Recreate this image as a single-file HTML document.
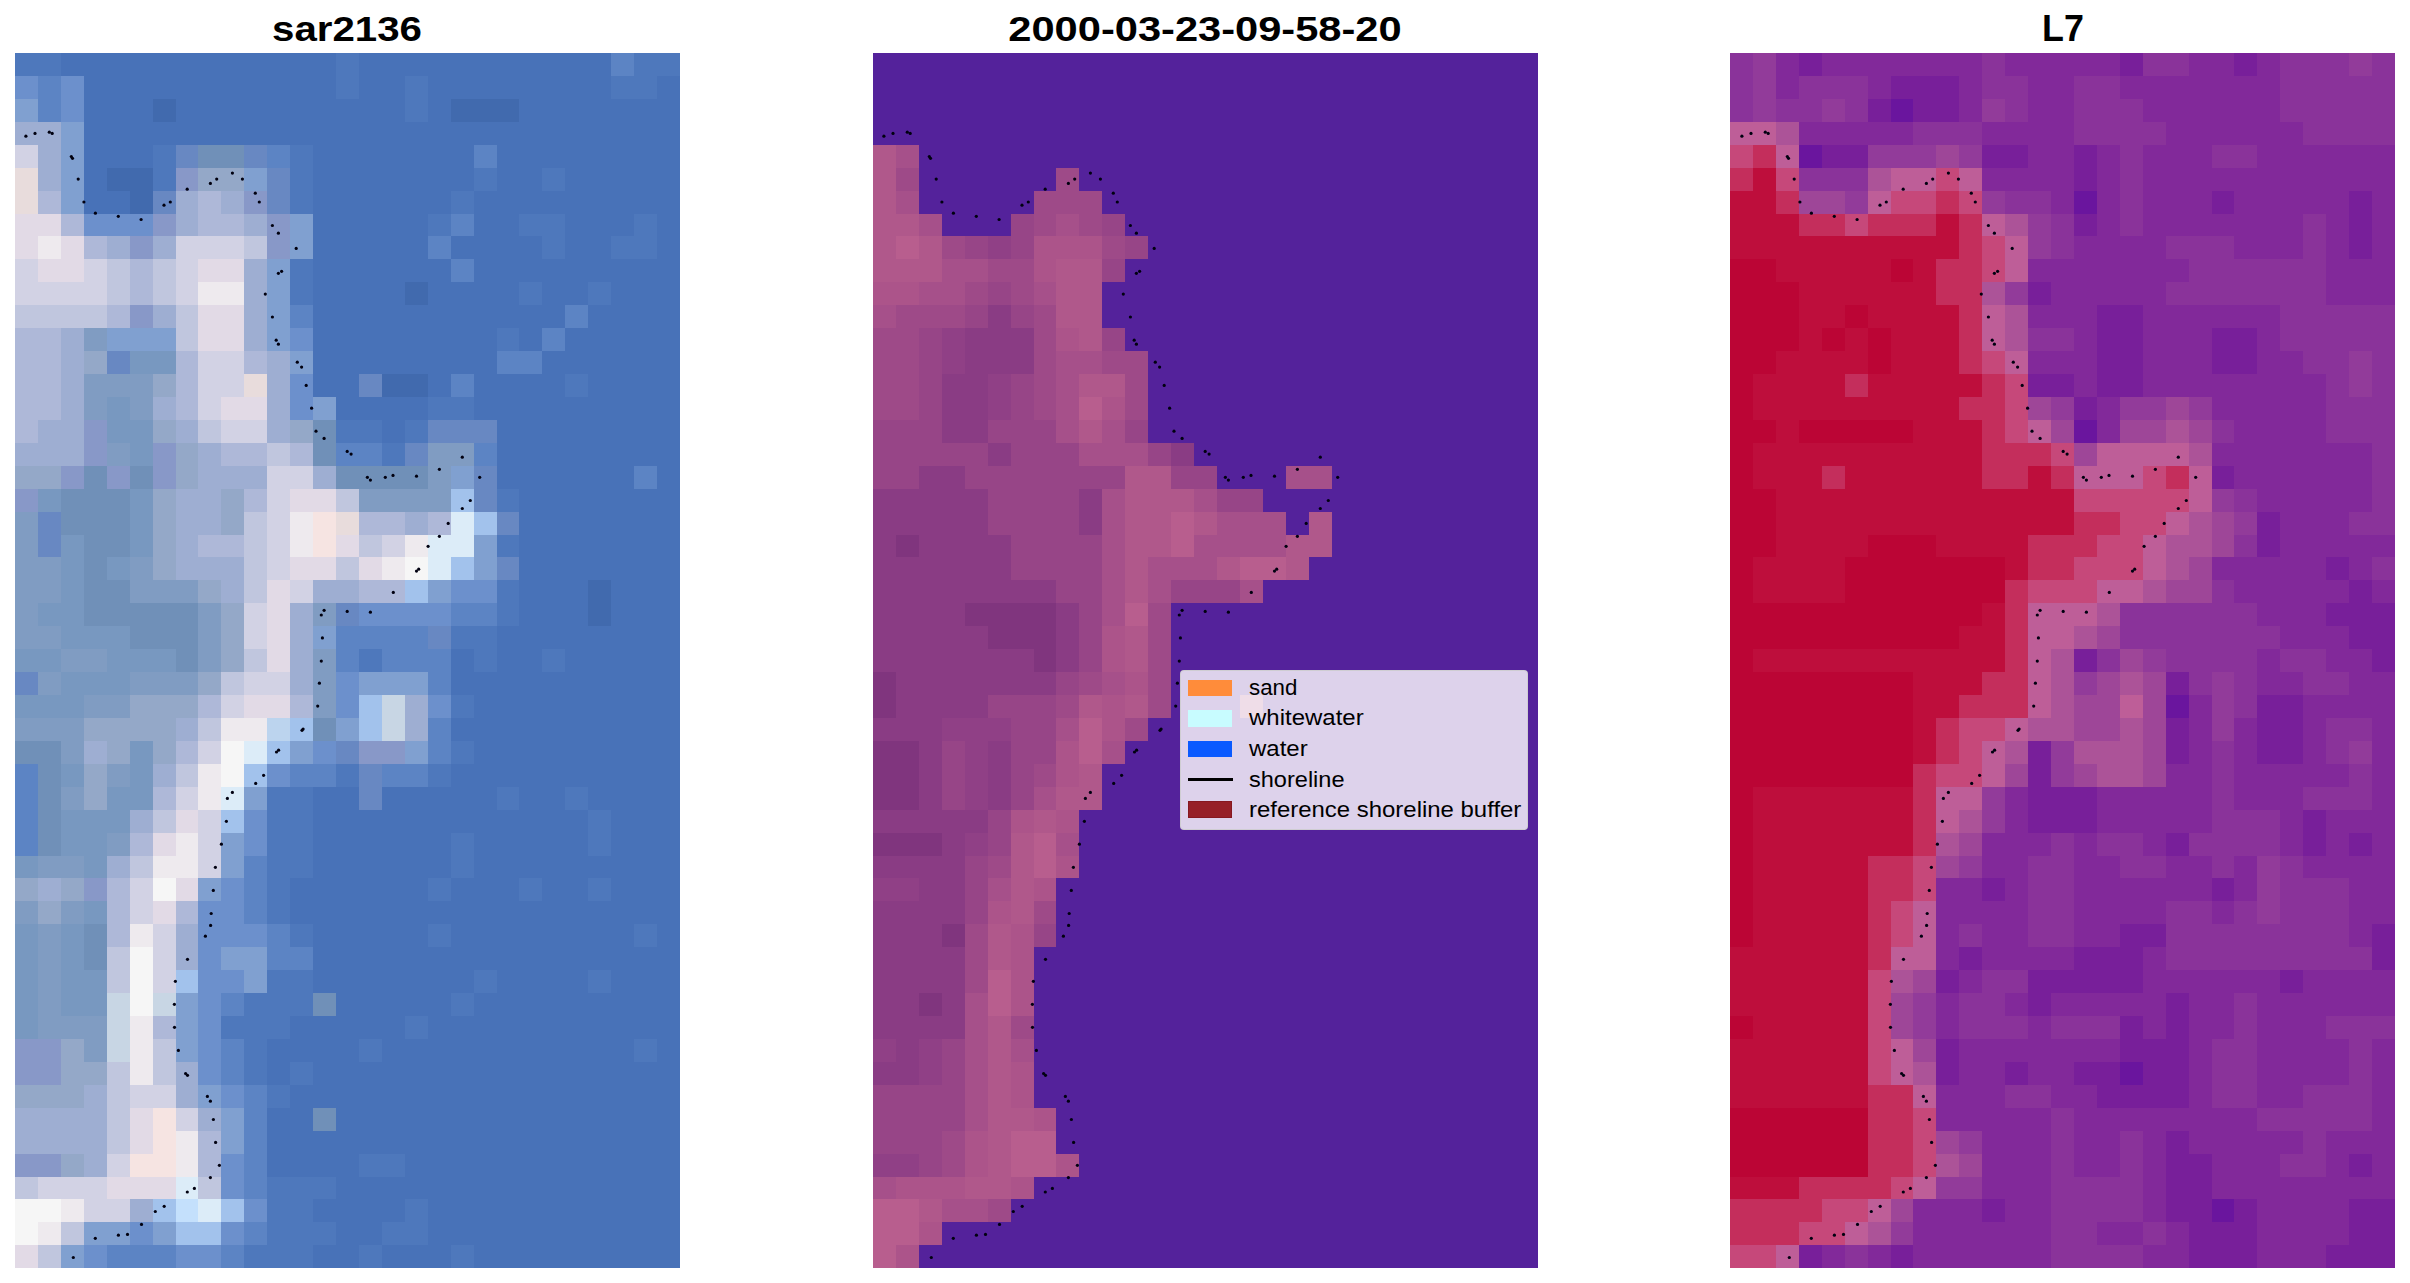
<!DOCTYPE html>
<html><head><meta charset="utf-8"><style>
html,body{margin:0;padding:0;background:#fff;}
body{width:2410px;height:1283px;position:relative;overflow:hidden;font-family:"Liberation Sans",sans-serif;}
.p{position:absolute;display:block;}
.t{position:absolute;top:0;font-weight:bold;font-size:35px;color:#000;white-space:nowrap;line-height:57px;transform-origin:50% 50%;text-align:center;width:600px;}
.lg{position:absolute;left:1180px;top:670px;width:348px;height:160px;background:rgba(255,255,255,0.8);border-radius:4px;box-sizing:border-box;border:1px solid rgba(204,204,204,0.8);}
.lg .sw{position:absolute;left:7px;width:44px;height:16px;}
.lg .tx{position:absolute;left:68px;font-size:22px;line-height:24px;color:#000;white-space:nowrap;transform-origin:0 50%;}
#dots{position:absolute;left:0;top:0;}
</style></head><body>
<div class="t" id="t1" style="left:47px;transform:scaleX(1.149)">sar2136</div>
<div class="t" id="t2" style="left:905px;transform:scaleX(1.189)">2000-03-23-09-58-20</div>
<div class="t" id="t3" style="left:1763px;font-size:36.4px;transform:scaleX(0.985)">L7</div>
<svg class="p" style="left:15.3px;top:53.1px" width="664.97" height="1215.29" viewBox="0 0 29 53" preserveAspectRatio="none" shape-rendering="crispEdges"><rect width="29" height="53" fill="#4872b8"/><path fill="#416aae" d="M6 2h1v1h-1zM19 2h3v1h-3zM4 5h2v1h-2zM5 6h1v1h-1zM17 10h1v1h-1zM16 14h2v1h-2zM25 23h1v1h-1zM25 24h1v1h-1z"/><path fill="#4e78bc" d="M0 0h2v1h-2zM14 0h1v1h-1zM27 0h2v1h-2zM14 1h1v1h-1zM17 1h1v1h-1zM26 1h2v1h-2zM17 2h1v1h-1zM6 4h1v1h-1zM12 4h1v1h-1zM6 5h1v1h-1zM12 5h1v1h-1zM20 5h1v1h-1zM23 5h1v1h-1zM12 6h1v1h-1zM19 6h1v1h-1zM18 7h1v1h-1zM22 7h2v1h-2zM27 7h1v1h-1zM23 8h1v1h-1zM26 8h2v1h-2zM12 9h1v1h-1zM12 10h1v1h-1zM22 10h1v1h-1zM25 10h1v1h-1zM21 12h1v1h-1zM24 14h1v1h-1zM18 15h2v1h-2zM14 16h2v1h-2zM17 16h1v1h-1zM16 17h1v1h-1zM21 19h1v1h-1zM21 21h1v1h-1zM21 23h1v1h-1zM21 24h1v1h-1zM19 25h2v1h-2zM15 26h1v1h-1zM20 26h1v1h-1zM23 26h1v1h-1zM19 28h1v1h-1zM19 30h1v1h-1zM14 31h1v1h-1zM18 31h1v1h-1zM11 32h2v1h-2zM21 32h1v1h-1zM24 32h1v1h-1zM11 33h2v1h-2zM25 33h1v1h-1zM11 34h2v1h-2zM19 34h1v1h-1zM25 34h1v1h-1zM11 35h2v1h-2zM19 35h1v1h-1zM11 36h1v1h-1zM18 36h1v1h-1zM22 36h1v1h-1zM25 36h1v1h-1zM11 37h1v1h-1zM12 38h1v1h-1zM18 38h1v1h-1zM27 38h1v1h-1zM11 40h2v1h-2zM20 40h1v1h-1zM25 40h1v1h-1zM10 41h3v1h-3zM19 41h1v1h-1zM9 42h3v1h-3zM17 42h1v1h-1zM10 43h1v1h-1zM15 43h1v1h-1zM27 43h1v1h-1zM10 44h1v1h-1zM12 44h1v1h-1zM11 45h1v1h-1zM15 48h2v1h-2zM11 49h3v1h-3zM11 50h2v1h-2zM17 50h1v1h-1zM11 51h3v1h-3zM16 51h2v1h-2zM10 52h3v1h-3zM15 52h1v1h-1zM19 52h1v1h-1z"/><path fill="#5c84c4" d="M26 0h1v1h-1zM1 1h1v1h-1zM1 2h1v1h-1zM11 4h1v1h-1zM20 4h1v1h-1zM19 7h1v1h-1zM18 8h1v1h-1zM19 9h1v1h-1zM12 11h1v1h-1zM24 11h1v1h-1zM23 12h1v1h-1zM21 13h2v1h-2zM19 14h1v1h-1zM14 17h2v1h-2zM20 17h1v1h-1zM27 18h1v1h-1zM19 24h2v1h-2zM14 25h4v1h-4zM14 26h1v1h-1zM16 26h3v1h-3zM18 27h1v1h-1zM18 29h1v1h-1zM18 30h1v1h-1zM0 31h1v1h-1zM12 31h2v1h-2zM16 31h2v1h-2zM0 32h1v1h-1zM0 33h1v1h-1zM0 34h1v1h-1zM10 35h1v1h-1zM10 36h1v1h-1zM10 37h1v1h-1zM11 38h1v1h-1zM11 39h2v1h-2zM9 41h1v1h-1zM9 43h1v1h-1zM9 44h1v1h-1zM10 45h1v1h-1zM10 46h1v1h-1zM10 47h1v1h-1zM10 48h1v1h-1zM10 49h1v1h-1zM10 51h1v1h-1zM4 52h3v1h-3zM9 52h1v1h-1z"/><path fill="#6c90cc" d="M0 1h1v1h-1zM2 1h1v1h-1zM2 2h1v1h-1zM3 7h3v1h-3zM12 12h1v1h-1zM12 14h1v1h-1zM12 15h1v1h-1zM19 23h2v1h-2zM15 24h4v1h-4zM14 27h1v1h-1zM14 28h1v1h-1zM18 28h1v1h-1zM13 30h1v1h-1zM11 31h1v1h-1zM10 33h1v1h-1zM10 34h1v1h-1zM9 36h1v1h-1zM8 37h2v1h-2zM8 38h3v1h-3zM8 39h1v1h-1zM8 40h2v1h-2zM8 41h1v1h-1zM8 42h1v1h-1zM8 43h1v1h-1zM8 44h1v1h-1zM9 45h1v1h-1zM9 48h1v1h-1zM9 49h1v1h-1zM10 50h1v1h-1zM5 51h1v1h-1zM9 51h1v1h-1zM3 52h1v1h-1zM7 52h2v1h-2z"/><path fill="#80a0d0" d="M0 2h1v1h-1zM2 3h1v1h-1zM2 4h1v1h-1zM2 5h1v1h-1zM10 5h1v1h-1zM2 6h1v1h-1zM12 7h1v1h-1zM12 8h1v1h-1zM11 9h1v1h-1zM11 10h1v1h-1zM11 11h1v1h-1zM4 12h3v1h-3zM11 12h1v1h-1zM12 13h1v1h-1zM13 15h1v1h-1zM19 18h1v1h-1zM20 21h1v1h-1zM20 22h1v1h-1zM18 23h1v1h-1zM13 25h1v1h-1zM15 27h3v1h-3zM14 29h1v1h-1zM12 30h1v1h-1zM17 30h1v1h-1zM10 32h1v1h-1zM9 34h1v1h-1zM9 35h1v1h-1zM8 36h1v1h-1zM9 39h2v1h-2zM10 40h1v1h-1zM7 41h1v1h-1zM7 42h1v1h-1zM7 43h1v1h-1zM8 45h1v1h-1zM9 46h1v1h-1zM9 47h1v1h-1zM3 51h2v1h-2zM6 51h1v1h-1zM2 52h1v1h-1z"/><path fill="#8898c8" d="M7 5h1v1h-1zM10 6h1v1h-1zM6 7h1v1h-1zM11 7h1v1h-1zM5 8h1v1h-1zM11 8h1v1h-1zM5 11h1v1h-1zM3 16h1v1h-1zM3 17h1v1h-1zM6 17h1v1h-1zM2 18h1v1h-1zM4 18h1v1h-1zM6 18h1v1h-1zM0 19h1v1h-1zM15 30h2v1h-2zM3 36h1v1h-1zM0 43h2v1h-2zM0 44h2v1h-2zM0 48h2v1h-2z"/><path fill="#9eaed2" d="M0 3h2v1h-2zM1 4h1v1h-1zM1 5h1v1h-1zM7 6h1v1h-1zM9 6h1v1h-1zM7 7h1v1h-1zM10 7h1v1h-1zM4 8h1v1h-1zM6 8h1v1h-1zM10 9h1v1h-1zM10 10h1v1h-1zM6 11h1v1h-1zM10 11h1v1h-1zM2 12h1v1h-1zM10 12h1v1h-1zM2 13h1v1h-1zM11 13h1v1h-1zM2 14h1v1h-1zM11 14h1v1h-1zM2 15h1v1h-1zM6 15h1v1h-1zM11 15h1v1h-1zM1 16h2v1h-2zM7 16h1v1h-1zM11 16h1v1h-1zM0 17h3v1h-3zM8 17h1v1h-1zM8 18h3v1h-3zM13 18h1v1h-1zM7 19h2v1h-2zM7 20h2v1h-2zM17 20h1v1h-1zM7 21h1v1h-1zM7 22h3v1h-3zM9 23h1v1h-1zM13 23h2v1h-2zM12 24h1v1h-1zM12 25h1v1h-1zM12 26h1v1h-1zM12 27h1v1h-1zM17 28h1v1h-1zM7 29h1v1h-1zM17 29h1v1h-1zM3 30h1v1h-1zM6 31h1v1h-1zM5 33h1v1h-1zM4 35h1v1h-1zM1 36h1v1h-1zM7 38h1v1h-1zM7 39h1v1h-1zM7 44h1v1h-1zM3 45h1v1h-1zM7 45h1v1h-1zM0 46h4v1h-4zM8 46h1v1h-1zM0 47h4v1h-4zM3 48h1v1h-1zM5 50h1v1h-1z"/><path fill="#aeb8d8" d="M1 6h1v1h-1zM8 6h1v1h-1zM2 7h1v1h-1zM8 7h2v1h-2zM3 8h1v1h-1zM5 9h1v1h-1zM5 10h1v1h-1zM4 11h1v1h-1zM0 12h2v1h-2zM0 13h2v1h-2zM7 13h1v1h-1zM10 13h1v1h-1zM0 14h2v1h-2zM7 14h1v1h-1zM0 15h2v1h-2zM7 15h1v1h-1zM0 16h1v1h-1zM9 17h2v1h-2zM12 17h1v1h-1zM10 19h1v1h-1zM15 20h2v1h-2zM18 20h1v1h-1zM8 21h2v1h-2zM15 23h2v1h-2zM8 28h1v1h-1zM12 28h1v1h-1zM7 30h1v1h-1zM6 32h1v1h-1zM5 34h1v1h-1zM4 36h1v1h-1zM4 37h1v1h-1zM7 37h1v1h-1zM4 38h1v1h-1zM6 42h1v1h-1zM8 47h1v1h-1zM8 48h1v1h-1z"/><path fill="#c0c6de" d="M10 8h1v1h-1zM4 9h1v1h-1zM6 9h1v1h-1zM4 10h1v1h-1zM6 10h1v1h-1zM0 11h4v1h-4zM7 11h1v1h-1zM7 12h1v1h-1zM8 16h1v1h-1zM11 17h1v1h-1zM14 19h1v1h-1zM10 20h1v1h-1zM10 21h1v1h-1zM15 21h1v1h-1zM10 22h1v1h-1zM14 22h1v1h-1zM10 23h1v1h-1zM10 26h1v1h-1zM9 27h1v1h-1zM8 29h1v1h-1zM7 31h1v1h-1zM6 33h1v1h-1zM5 35h1v1h-1zM4 39h1v1h-1zM4 40h1v1h-1zM6 43h1v1h-1zM4 44h1v1h-1zM6 44h1v1h-1zM4 45h1v1h-1zM4 46h1v1h-1zM4 47h1v1h-1zM0 49h1v1h-1zM8 49h1v1h-1zM2 51h1v1h-1zM1 52h1v1h-1z"/><path fill="#d2d2e4" d="M0 4h1v1h-1zM7 8h3v1h-3zM0 9h1v1h-1zM3 9h1v1h-1zM7 9h1v1h-1zM0 10h4v1h-4zM7 10h1v1h-1zM8 13h2v1h-2zM8 14h2v1h-2zM8 15h1v1h-1zM9 16h2v1h-2zM11 18h2v1h-2zM11 19h1v1h-1zM11 20h1v1h-1zM11 21h1v1h-1zM16 21h1v1h-1zM11 22h1v1h-1zM12 23h1v1h-1zM10 24h1v1h-1zM10 25h1v1h-1zM10 27h2v1h-2zM9 28h1v1h-1zM8 30h1v1h-1zM7 32h1v1h-1zM8 33h1v1h-1zM8 34h1v1h-1zM8 35h1v1h-1zM5 36h1v1h-1zM5 37h1v1h-1zM6 38h1v1h-1zM6 39h1v1h-1zM6 40h1v1h-1zM5 45h2v1h-2zM7 46h1v1h-1zM4 48h1v1h-1zM1 49h3v1h-3zM3 50h2v1h-2z"/><path fill="#e2dae6" d="M0 7h2v1h-2zM0 8h1v1h-1zM2 8h1v1h-1zM1 9h2v1h-2zM8 9h2v1h-2zM8 11h2v1h-2zM8 12h2v1h-2zM9 15h2v1h-2zM12 19h2v1h-2zM14 21h1v1h-1zM12 22h2v1h-2zM15 22h1v1h-1zM11 23h1v1h-1zM11 24h1v1h-1zM11 25h1v1h-1zM11 26h1v1h-1zM10 28h2v1h-2zM7 33h1v1h-1zM6 34h1v1h-1zM7 36h1v1h-1zM6 37h1v1h-1zM5 46h1v1h-1zM5 47h1v1h-1zM4 49h3v1h-3zM0 52h1v1h-1z"/><path fill="#eeeaee" d="M1 8h1v1h-1zM8 10h2v1h-2zM12 20h1v1h-1zM12 21h1v1h-1zM17 21h1v1h-1zM16 22h1v1h-1zM9 29h2v1h-2zM8 31h1v1h-1zM8 32h1v1h-1zM7 34h1v1h-1zM6 35h2v1h-2zM5 38h1v1h-1zM5 42h1v1h-1zM5 43h1v1h-1zM5 44h1v1h-1zM7 47h1v1h-1zM7 48h1v1h-1zM2 50h1v1h-1zM1 51h1v1h-1z"/><path fill="#a2c2ec" d="M19 19h1v1h-1zM20 20h1v1h-1zM19 22h1v1h-1zM17 23h1v1h-1zM15 28h1v1h-1zM12 29h1v1h-1zM15 29h1v1h-1zM11 30h1v1h-1zM10 31h1v1h-1zM9 33h1v1h-1zM7 40h1v1h-1zM6 50h1v1h-1zM9 50h1v1h-1zM7 51h2v1h-2z"/><path fill="#dcecf8" d="M19 20h1v1h-1zM18 21h2v1h-2zM18 22h1v1h-1zM10 30h1v1h-1zM9 32h1v1h-1zM7 49h1v1h-1zM8 50h1v1h-1z"/><path fill="#7090b8" d="M8 4h2v1h-2zM13 16h1v1h-1zM13 17h1v1h-1zM3 18h1v1h-1zM5 18h1v1h-1zM14 18h4v1h-4zM2 19h3v1h-3zM2 20h3v1h-3zM3 21h2v1h-2zM3 22h1v1h-1zM3 23h2v1h-2zM3 24h5v1h-5zM5 25h3v1h-3zM7 26h1v1h-1zM13 29h1v1h-1zM0 30h2v1h-2zM1 31h1v1h-1zM1 32h1v1h-1zM1 33h1v1h-1zM1 34h1v1h-1zM3 38h1v1h-1zM3 39h1v1h-1zM13 41h1v1h-1zM13 46h1v1h-1z"/><path fill="#e8dcdc" d="M0 5h1v1h-1zM0 6h1v1h-1zM10 14h1v1h-1zM14 20h1v1h-1z"/><path fill="#809cc2" d="M3 12h1v1h-1zM3 14h3v1h-3zM3 15h1v1h-1zM5 15h1v1h-1zM4 17h1v1h-1zM18 17h2v1h-2zM18 18h1v1h-1zM15 19h4v1h-4zM0 20h1v1h-1zM0 21h1v1h-1zM0 22h2v1h-2zM5 22h1v1h-1zM0 23h2v1h-2zM5 23h3v1h-3zM0 24h1v1h-1zM8 24h1v1h-1zM13 24h1v1h-1zM0 25h2v1h-2zM8 25h1v1h-1zM2 26h2v1h-2zM8 26h1v1h-1zM13 26h1v1h-1zM1 27h1v1h-1zM5 27h3v1h-3zM13 27h1v1h-1zM3 28h2v1h-2zM13 28h1v1h-1zM0 29h3v1h-3zM2 30h1v1h-1zM4 31h1v1h-1zM2 32h1v1h-1zM4 34h1v1h-1zM1 35h2v1h-2zM0 37h1v1h-1zM2 37h1v1h-1zM1 38h1v1h-1zM1 39h1v1h-1zM1 40h1v1h-1zM1 41h1v1h-1zM1 42h3v1h-3zM3 43h1v1h-1z"/><path fill="#6888c2" d="M7 4h1v1h-1zM10 4h1v1h-1zM11 5h1v1h-1zM6 6h1v1h-1zM11 6h1v1h-1zM4 13h1v1h-1zM15 14h1v1h-1zM18 16h3v1h-3zM17 17h1v1h-1zM20 18h1v1h-1zM20 19h1v1h-1zM1 20h1v1h-1zM21 20h1v1h-1zM1 21h1v1h-1zM21 22h1v1h-1zM14 24h1v1h-1zM18 25h1v1h-1zM0 27h1v1h-1zM14 30h1v1h-1zM15 31h1v1h-1zM15 32h1v1h-1z"/><path fill="#f6e4e2" d="M13 20h1v1h-1zM13 21h1v1h-1zM6 46h1v1h-1zM6 47h1v1h-1zM5 48h2v1h-2z"/><path fill="#c4e0fc" d="M7 50h1v1h-1z"/><path fill="#7898c0" d="M5 13h2v1h-2zM4 15h1v1h-1zM4 16h2v1h-2zM5 17h1v1h-1zM1 19h1v1h-1zM5 19h1v1h-1zM5 20h1v1h-1zM2 21h1v1h-1zM5 21h1v1h-1zM2 22h1v1h-1zM4 22h1v1h-1zM2 23h1v1h-1zM1 24h2v1h-2zM2 25h3v1h-3zM0 26h2v1h-2zM4 26h3v1h-3zM2 27h3v1h-3zM0 28h3v1h-3zM5 30h1v1h-1zM2 31h1v1h-1zM5 31h1v1h-1zM4 32h2v1h-2zM2 33h3v1h-3zM2 34h2v1h-2zM0 35h1v1h-1zM3 35h1v1h-1zM3 37h1v1h-1zM0 38h1v1h-1zM2 38h1v1h-1zM0 39h1v1h-1zM2 39h1v1h-1zM0 40h1v1h-1zM2 40h2v1h-2zM0 41h1v1h-1zM2 41h2v1h-2zM0 42h1v1h-1z"/><path fill="#f6f6f6" d="M17 22h1v1h-1zM9 30h1v1h-1zM9 31h1v1h-1zM6 36h1v1h-1zM5 39h1v1h-1zM5 40h1v1h-1zM5 41h1v1h-1zM0 50h2v1h-2zM0 51h1v1h-1z"/><path fill="#94a8c8" d="M8 5h2v1h-2zM3 13h1v1h-1zM6 14h1v1h-1zM6 16h1v1h-1zM12 16h1v1h-1zM7 17h1v1h-1zM0 18h2v1h-2zM7 18h1v1h-1zM6 19h1v1h-1zM9 19h1v1h-1zM6 20h1v1h-1zM9 20h1v1h-1zM6 21h1v1h-1zM6 22h1v1h-1zM8 23h1v1h-1zM9 24h1v1h-1zM9 25h1v1h-1zM9 26h1v1h-1zM8 27h1v1h-1zM5 28h3v1h-3zM3 29h4v1h-4zM4 30h1v1h-1zM6 30h1v1h-1zM3 31h1v1h-1zM3 32h1v1h-1zM0 36h1v1h-1zM2 36h1v1h-1zM1 37h1v1h-1zM2 43h1v1h-1zM2 44h2v1h-2zM0 45h3v1h-3zM2 48h1v1h-1z"/><path fill="#c8d6e4" d="M16 28h1v1h-1zM16 29h1v1h-1zM4 41h1v1h-1zM6 41h1v1h-1zM4 42h1v1h-1zM4 43h1v1h-1z"/><path fill="#bcd4ee" d="M11 29h1v1h-1z"/></svg><svg class="p" style="left:872.9px;top:53.1px" width="664.97" height="1215.29" viewBox="0 0 29 53" preserveAspectRatio="none" shape-rendering="crispEdges"><rect width="29" height="53" fill="#54229b"/><path fill="#80357e" d="M1 21h1v1h-1zM4 24h4v1h-4zM5 25h3v1h-3zM7 26h1v1h-1zM0 27h1v1h-1zM0 28h1v1h-1zM0 30h2v1h-2zM0 31h2v1h-2zM0 32h2v1h-2zM0 34h3v1h-3zM3 38h1v1h-1zM2 41h1v1h-1z"/><path fill="#8a3c84" d="M5 11h1v1h-1zM4 12h3v1h-3zM4 13h3v1h-3zM3 14h2v1h-2zM3 15h2v1h-2zM3 16h2v1h-2zM5 17h1v1h-1zM13 17h1v1h-1zM2 18h2v1h-2zM0 19h5v1h-5zM9 19h1v1h-1zM0 20h5v1h-5zM9 20h1v1h-1zM0 21h1v1h-1zM2 21h4v1h-4zM0 22h6v1h-6zM0 23h8v1h-8zM0 24h4v1h-4zM8 24h1v1h-1zM0 25h5v1h-5zM8 25h1v1h-1zM0 26h7v1h-7zM8 26h1v1h-1zM1 27h7v1h-7zM1 28h4v1h-4zM0 29h3v1h-3zM2 30h1v1h-1zM5 30h1v1h-1zM2 31h1v1h-1zM5 31h1v1h-1zM2 32h1v1h-1zM5 32h1v1h-1zM0 33h5v1h-5zM3 34h1v1h-1zM0 35h4v1h-4zM2 36h2v1h-2zM0 37h4v1h-4zM0 38h3v1h-3zM0 39h4v1h-4zM0 40h4v1h-4zM0 41h2v1h-2zM3 41h1v1h-1zM0 42h4v1h-4zM1 43h1v1h-1zM0 44h2v1h-2z"/><path fill="#974587" d="M6 7h1v1h-1zM10 7h1v1h-1zM4 8h1v1h-1zM6 8h1v1h-1zM11 8h1v1h-1zM10 9h1v1h-1zM5 10h1v1h-1zM4 11h1v1h-1zM6 11h1v1h-1zM2 12h1v1h-1zM10 12h1v1h-1zM2 13h1v1h-1zM2 14h1v1h-1zM6 14h1v1h-1zM2 15h1v1h-1zM6 15h1v1h-1zM0 16h3v1h-3zM5 16h3v1h-3zM11 16h1v1h-1zM0 17h5v1h-5zM6 17h3v1h-3zM12 17h1v1h-1zM0 18h2v1h-2zM4 18h7v1h-7zM13 18h2v1h-2zM5 19h4v1h-4zM15 19h2v1h-2zM5 20h4v1h-4zM6 21h4v1h-4zM6 22h4v1h-4zM8 23h2v1h-2zM13 23h3v1h-3zM9 24h1v1h-1zM9 25h1v1h-1zM9 26h1v1h-1zM8 27h1v1h-1zM5 28h3v1h-3zM6 29h2v1h-2zM3 30h1v1h-1zM6 30h2v1h-2zM3 31h1v1h-1zM6 31h1v1h-1zM3 32h1v1h-1zM6 32h1v1h-1zM5 33h1v1h-1zM5 34h1v1h-1zM4 35h1v1h-1zM4 36h1v1h-1zM4 37h1v1h-1zM7 38h1v1h-1zM3 43h1v1h-1zM3 44h1v1h-1zM0 45h4v1h-4zM0 46h4v1h-4zM0 47h3v1h-3zM2 48h1v1h-1z"/><path fill="#a6508a" d="M1 4h1v1h-1zM1 6h1v1h-1zM2 7h1v1h-1zM8 7h1v1h-1zM3 9h2v1h-2zM2 10h2v1h-2zM7 10h1v1h-1zM0 11h1v1h-1zM8 13h2v1h-2zM8 14h1v1h-1zM8 15h1v1h-1zM8 16h1v1h-1zM10 16h1v1h-1zM9 17h3v1h-3zM18 18h2v1h-2zM10 19h1v1h-1zM14 19h1v1h-1zM10 20h1v1h-1zM15 20h3v1h-3zM10 21h1v1h-1zM14 21h4v1h-4zM10 22h1v1h-1zM12 22h3v1h-3zM10 23h1v1h-1zM12 23h1v1h-1zM16 23h1v1h-1zM10 24h1v1h-1zM10 27h1v1h-1zM8 29h1v1h-1zM10 30h1v1h-1zM7 32h1v1h-1zM8 34h1v1h-1zM5 36h1v1h-1zM4 41h1v1h-1zM4 42h1v1h-1zM4 43h1v1h-1zM6 43h1v1h-1zM4 44h1v1h-1zM4 45h1v1h-1zM4 46h1v1h-1zM0 49h1v1h-1zM3 50h2v1h-2z"/><path fill="#b0588b" d="M0 4h1v1h-1zM0 5h1v1h-1zM0 6h1v1h-1zM0 7h2v1h-2zM0 8h1v1h-1zM2 8h1v1h-1zM0 9h3v1h-3zM8 9h2v1h-2zM8 10h2v1h-2zM8 11h2v1h-2zM9 12h1v1h-1zM9 14h2v1h-2zM9 16h1v1h-1zM11 18h2v1h-2zM11 19h3v1h-3zM11 20h2v1h-2zM14 20h1v1h-1zM19 20h1v1h-1zM11 21h2v1h-2zM18 21h2v1h-2zM11 22h1v1h-1zM15 22h1v1h-1zM18 22h1v1h-1zM11 23h1v1h-1zM11 25h1v1h-1zM11 26h1v1h-1zM9 28h1v1h-1zM11 28h1v1h-1zM16 28h1v1h-1zM9 31h1v1h-1zM8 32h2v1h-2zM7 33h1v1h-1zM6 34h1v1h-1zM6 35h1v1h-1zM6 36h1v1h-1zM6 37h1v1h-1zM5 38h1v1h-1zM5 39h1v1h-1zM5 42h1v1h-1zM5 43h1v1h-1zM5 44h1v1h-1zM5 45h1v1h-1zM5 46h2v1h-2zM5 47h1v1h-1zM5 48h1v1h-1zM4 49h2v1h-2zM2 50h1v1h-1z"/><path fill="#b85e8e" d="M1 8h1v1h-1zM9 15h1v1h-1zM13 20h1v1h-1zM13 21h1v1h-1zM16 22h2v1h-2zM11 24h1v1h-1zM9 29h1v1h-1zM9 30h1v1h-1zM7 34h1v1h-1zM7 35h1v1h-1zM5 40h1v1h-1zM5 41h1v1h-1zM6 47h2v1h-2zM6 48h2v1h-2zM0 50h2v1h-2zM0 51h2v1h-2zM0 52h1v1h-1z"/><path fill="#904086" d="M5 8h1v1h-1zM3 12h1v1h-1zM3 13h1v1h-1zM5 14h1v1h-1zM5 15h1v1h-1zM3 29h3v1h-3zM4 30h1v1h-1zM4 31h1v1h-1zM4 32h1v1h-1zM4 34h1v1h-1zM0 36h2v1h-2zM0 43h1v1h-1zM2 43h1v1h-1zM2 44h1v1h-1zM0 48h2v1h-2z"/><path fill="#9e4a88" d="M1 5h1v1h-1zM8 5h1v1h-1zM7 6h3v1h-3zM7 7h1v1h-1zM9 7h1v1h-1zM3 8h1v1h-1zM10 8h1v1h-1zM5 9h2v1h-2zM4 10h1v1h-1zM6 10h1v1h-1zM1 11h3v1h-3zM7 11h1v1h-1zM0 12h2v1h-2zM7 12h1v1h-1zM0 13h2v1h-2zM7 13h1v1h-1zM10 13h2v1h-2zM0 14h2v1h-2zM7 14h1v1h-1zM11 14h1v1h-1zM0 15h2v1h-2zM7 15h1v1h-1zM11 15h1v1h-1zM12 24h1v1h-1zM12 25h1v1h-1zM12 26h1v1h-1zM9 27h1v1h-1zM12 27h1v1h-1zM8 28h1v1h-1zM12 28h1v1h-1zM11 29h1v1h-1zM7 31h1v1h-1zM5 35h1v1h-1zM7 37h1v1h-1zM4 38h1v1h-1zM4 39h1v1h-1zM4 40h1v1h-1zM6 42h1v1h-1zM3 47h1v1h-1zM3 48h1v1h-1zM5 50h1v1h-1z"/><path fill="#ac548a" d="M7 8h3v1h-3zM7 9h1v1h-1zM0 10h2v1h-2zM8 12h1v1h-1zM10 15h1v1h-1zM10 25h1v1h-1zM10 26h1v1h-1zM11 27h1v1h-1zM10 28h1v1h-1zM10 29h1v1h-1zM8 30h1v1h-1zM8 31h1v1h-1zM6 33h1v1h-1zM8 33h1v1h-1zM8 35h1v1h-1zM7 36h1v1h-1zM5 37h1v1h-1zM6 38h1v1h-1zM6 39h1v1h-1zM6 40h1v1h-1zM6 41h1v1h-1zM6 44h1v1h-1zM6 45h1v1h-1zM7 46h1v1h-1zM4 47h1v1h-1zM4 48h1v1h-1zM8 48h1v1h-1zM1 49h3v1h-3zM6 49h1v1h-1zM2 51h1v1h-1zM1 52h1v1h-1z"/></svg><svg class="p" style="left:1730.3px;top:53.1px" width="664.97" height="1215.29" viewBox="0 0 29 53" preserveAspectRatio="none" shape-rendering="crispEdges"><rect width="29" height="53" fill="#82299a"/><path fill="#6a159e" d="M7 2h1v1h-1zM3 4h1v1h-1zM15 6h1v1h-1zM15 16h1v1h-1zM19 28h1v1h-1zM17 44h1v1h-1zM21 50h1v1h-1z"/><path fill="#781f9a" d="M3 0h1v1h-1zM17 0h1v1h-1zM22 0h1v1h-1zM7 1h3v1h-3zM6 2h1v1h-1zM8 2h2v1h-2zM4 4h2v1h-2zM11 4h2v1h-2zM15 4h1v1h-1zM15 5h1v1h-1zM21 6h1v1h-1zM27 6h1v1h-1zM15 7h1v1h-1zM27 7h1v1h-1zM27 8h1v1h-1zM13 10h1v1h-1zM16 11h2v1h-2zM16 12h2v1h-2zM21 12h2v1h-2zM16 13h2v1h-2zM21 13h2v1h-2zM13 14h2v1h-2zM16 14h2v1h-2zM15 15h1v1h-1zM21 18h1v1h-1zM23 20h1v1h-1zM23 21h1v1h-1zM26 22h1v1h-1zM27 23h1v1h-1zM26 24h3v1h-3zM27 25h2v1h-2zM15 26h1v1h-1zM28 26h1v1h-1zM19 27h1v1h-1zM23 28h2v1h-2zM19 29h1v1h-1zM23 29h2v1h-2zM13 30h1v1h-1zM19 30h1v1h-1zM23 30h2v1h-2zM13 31h1v1h-1zM13 32h3v1h-3zM13 33h3v1h-3zM25 33h1v1h-1zM19 34h1v1h-1zM25 34h1v1h-1zM27 34h1v1h-1zM11 36h1v1h-1zM21 36h1v1h-1zM17 38h2v1h-2zM28 38h1v1h-1zM10 39h1v1h-1zM15 39h3v1h-3zM28 39h1v1h-1zM9 40h1v1h-1zM13 40h5v1h-5zM24 40h1v1h-1zM13 41h1v1h-1zM19 41h1v1h-1zM17 42h1v1h-1zM19 42h1v1h-1zM9 43h1v1h-1zM17 43h3v1h-3zM9 44h1v1h-1zM12 44h1v1h-1zM15 44h2v1h-2zM18 44h2v1h-2zM16 45h4v1h-4zM19 47h1v1h-1zM19 48h2v1h-2zM27 48h1v1h-1zM19 49h2v1h-2zM11 50h1v1h-1zM19 50h2v1h-2zM22 50h1v1h-1zM27 50h2v1h-2zM20 51h3v1h-3zM27 51h2v1h-2zM3 52h1v1h-1zM7 52h1v1h-1zM20 52h3v1h-3zM26 52h3v1h-3z"/><path fill="#8a339a" d="M0 0h1v1h-1zM11 0h1v1h-1zM18 0h2v1h-2zM24 0h3v1h-3zM28 0h1v1h-1zM0 1h1v1h-1zM3 1h3v1h-3zM11 1h2v1h-2zM15 1h2v1h-2zM24 1h5v1h-5zM0 2h1v1h-1zM2 2h2v1h-2zM5 2h1v1h-1zM12 2h1v1h-1zM15 2h3v1h-3zM24 2h5v1h-5zM8 3h3v1h-3zM15 3h4v1h-4zM25 3h4v1h-4zM17 4h1v1h-1zM21 4h2v1h-2zM3 5h3v1h-3zM17 5h1v1h-1zM12 6h2v1h-2zM17 6h1v1h-1zM14 7h1v1h-1zM17 7h1v1h-1zM25 7h1v1h-1zM14 8h1v1h-1zM19 8h3v1h-3zM25 8h1v1h-1zM20 9h6v1h-6zM19 10h7v1h-7zM24 11h5v1h-5zM13 12h2v1h-2zM24 12h5v1h-5zM25 13h2v1h-2zM28 13h1v1h-1zM26 14h1v1h-1zM28 14h1v1h-1zM26 15h3v1h-3zM21 16h1v1h-1zM26 16h3v1h-3zM28 17h1v1h-1zM28 18h1v1h-1zM22 19h1v1h-1zM28 19h1v1h-1zM27 20h2v1h-2zM22 21h1v1h-1zM28 22h1v1h-1zM21 23h1v1h-1zM17 24h6v1h-6zM17 25h7v1h-7zM16 26h1v1h-1zM19 26h4v1h-4zM24 26h2v1h-2zM20 27h1v1h-1zM22 27h1v1h-1zM25 27h2v1h-2zM22 28h1v1h-1zM26 29h2v1h-2zM21 30h1v1h-1zM26 30h1v1h-1zM21 31h1v1h-1zM27 31h1v1h-1zM21 32h1v1h-1zM25 32h3v1h-3zM21 33h3v1h-3zM14 34h1v1h-1zM16 34h2v1h-2zM20 34h4v1h-4zM13 35h2v1h-2zM17 35h2v1h-2zM21 35h1v1h-1zM24 35h1v1h-1zM13 36h2v1h-2zM24 36h3v1h-3zM13 37h2v1h-2zM19 37h2v1h-2zM22 37h1v1h-1zM24 37h3v1h-3zM10 38h1v1h-1zM13 38h2v1h-2zM19 38h8v1h-8zM19 39h9v1h-9zM11 40h2v1h-2zM10 41h2v1h-2zM22 41h1v1h-1zM10 42h3v1h-3zM14 42h3v1h-3zM22 42h1v1h-1zM26 42h3v1h-3zM21 43h2v1h-2zM27 43h1v1h-1zM21 44h2v1h-2zM27 44h1v1h-1zM12 45h2v1h-2zM21 45h2v1h-2zM25 45h3v1h-3zM14 46h1v1h-1zM23 46h5v1h-5zM14 47h1v1h-1zM17 47h1v1h-1zM25 47h1v1h-1zM14 48h1v1h-1zM17 48h1v1h-1zM24 48h2v1h-2zM14 49h4v1h-4zM14 50h4v1h-4zM14 51h2v1h-2zM18 51h1v1h-1zM5 52h1v1h-1zM14 52h4v1h-4z"/><path fill="#923b9a" d="M1 0h1v1h-1zM27 0h1v1h-1zM1 1h1v1h-1zM1 2h1v1h-1zM4 2h1v1h-1zM11 2h1v1h-1zM6 4h3v1h-3zM10 4h1v1h-1zM5 6h1v1h-1zM11 6h1v1h-1zM13 7h1v1h-1zM13 8h1v1h-1zM12 10h1v1h-1zM27 13h1v1h-1zM27 14h1v1h-1zM14 15h1v1h-1zM17 15h2v1h-2zM20 15h1v1h-1zM21 19h1v1h-1zM22 20h1v1h-1zM18 26h1v1h-1zM15 27h1v1h-1zM21 27h1v1h-1zM21 28h1v1h-1zM21 29h1v1h-1zM14 30h1v1h-1zM27 30h1v1h-1zM14 31h1v1h-1zM11 32h1v1h-1zM11 33h1v1h-1zM10 35h1v1h-1zM23 35h1v1h-1zM23 36h1v1h-1zM23 37h1v1h-1zM8 41h1v1h-1zM8 42h1v1h-1zM10 47h1v1h-1zM9 49h2v1h-2zM7 51h1v1h-1z"/><path fill="#9e4698" d="M9 4h1v1h-1zM3 6h2v1h-2zM13 15h1v1h-1zM19 15h1v1h-1zM14 16h1v1h-1zM17 16h2v1h-2zM20 16h1v1h-1zM15 17h1v1h-1zM21 20h1v1h-1zM21 21h1v1h-1zM20 22h1v1h-1zM19 23h2v1h-2zM16 25h1v1h-1zM17 26h1v1h-1zM16 27h1v1h-1zM18 27h1v1h-1zM15 28h2v1h-2zM18 28h1v1h-1zM15 29h2v1h-2zM18 29h1v1h-1zM18 30h1v1h-1zM12 31h1v1h-1zM15 31h1v1h-1zM18 31h1v1h-1zM10 34h1v1h-1zM9 35h1v1h-1zM8 40h1v1h-1zM7 41h1v1h-1zM7 42h1v1h-1zM8 43h1v1h-1zM9 47h1v1h-1zM10 48h1v1h-1zM7 50h1v1h-1z"/><path fill="#ac5398" d="M2 3h1v1h-1zM6 5h1v1h-1zM12 7h1v1h-1zM11 10h1v1h-1zM12 11h1v1h-1zM12 12h1v1h-1zM19 16h1v1h-1zM20 17h1v1h-1zM20 20h1v1h-1zM19 21h2v1h-2zM19 22h1v1h-1zM18 23h1v1h-1zM16 24h1v1h-1zM15 25h1v1h-1zM14 26h1v1h-1zM14 27h1v1h-1zM17 27h1v1h-1zM14 28h1v1h-1zM13 29h2v1h-2zM17 29h1v1h-1zM12 30h1v1h-1zM15 30h3v1h-3zM16 31h2v1h-2zM10 33h1v1h-1zM9 34h1v1h-1zM7 40h1v1h-1zM8 44h1v1h-1zM9 48h1v1h-1zM6 51h1v1h-1z"/><path fill="#be5e98" d="M0 3h2v1h-2zM2 4h1v1h-1zM7 5h2v1h-2zM10 5h1v1h-1zM6 6h1v1h-1zM11 7h1v1h-1zM12 8h1v1h-1zM12 9h1v1h-1zM11 11h1v1h-1zM11 12h1v1h-1zM12 13h1v1h-1zM13 16h1v1h-1zM16 17h4v1h-4zM15 18h3v1h-3zM20 18h1v1h-1zM20 19h1v1h-1zM19 20h1v1h-1zM18 21h1v1h-1zM18 22h1v1h-1zM16 23h2v1h-2zM13 24h3v1h-3zM13 25h2v1h-2zM13 26h1v1h-1zM13 27h1v1h-1zM13 28h1v1h-1zM17 28h1v1h-1zM12 29h1v1h-1zM11 30h1v1h-1zM11 31h1v1h-1zM9 32h2v1h-2zM9 33h1v1h-1zM8 37h1v1h-1zM8 38h1v1h-1zM7 39h2v1h-2zM7 43h1v1h-1zM7 44h1v1h-1zM8 45h1v1h-1zM8 49h1v1h-1zM6 50h1v1h-1zM5 51h1v1h-1zM2 52h1v1h-1z"/><path fill="#c6487a" d="M0 4h1v1h-1zM2 5h1v1h-1zM9 5h1v1h-1zM7 6h2v1h-2zM10 6h1v1h-1zM5 7h1v1h-1zM11 8h1v1h-1zM11 9h1v1h-1zM11 13h1v1h-1zM12 14h1v1h-1zM12 15h1v1h-1zM12 16h1v1h-1zM14 17h1v1h-1zM18 18h1v1h-1zM15 19h5v1h-5zM17 20h2v1h-2zM16 21h2v1h-2zM15 22h3v1h-3zM13 23h3v1h-3zM10 29h2v1h-2zM10 30h1v1h-1zM9 31h2v1h-2zM8 35h1v1h-1zM8 36h1v1h-1zM7 37h1v1h-1zM7 38h1v1h-1zM6 40h1v1h-1zM6 41h1v1h-1zM6 42h1v1h-1zM6 43h1v1h-1zM6 44h1v1h-1zM8 46h1v1h-1zM8 47h1v1h-1zM8 48h1v1h-1zM7 49h1v1h-1zM4 50h2v1h-2zM3 51h2v1h-2zM0 52h2v1h-2z"/><path fill="#c42e5c" d="M1 4h1v1h-1zM0 5h1v1h-1zM2 6h1v1h-1zM9 6h1v1h-1zM3 7h2v1h-2zM6 7h3v1h-3zM10 7h1v1h-1zM10 8h1v1h-1zM9 9h2v1h-2zM9 10h2v1h-2zM10 11h1v1h-1zM10 12h1v1h-1zM10 13h1v1h-1zM5 14h1v1h-1zM11 14h1v1h-1zM10 15h2v1h-2zM11 16h1v1h-1zM11 17h3v1h-3zM4 18h1v1h-1zM11 18h2v1h-2zM14 18h1v1h-1zM19 18h1v1h-1zM15 20h2v1h-2zM13 21h3v1h-3zM13 22h2v1h-2zM12 23h1v1h-1zM12 24h1v1h-1zM12 25h1v1h-1zM12 26h1v1h-1zM11 27h2v1h-2zM10 28h3v1h-3zM9 29h1v1h-1zM9 30h1v1h-1zM8 31h1v1h-1zM8 32h1v1h-1zM8 33h1v1h-1zM8 34h1v1h-1zM6 35h2v1h-2zM6 36h2v1h-2zM6 37h1v1h-1zM6 38h1v1h-1zM6 39h1v1h-1zM6 45h2v1h-2zM6 46h2v1h-2zM6 47h2v1h-2zM6 48h2v1h-2zM3 49h4v1h-4zM0 50h4v1h-4zM0 51h3v1h-3z"/><path fill="#be0e3c" d="M1 5h1v1h-1zM0 6h2v1h-2zM0 7h3v1h-3zM9 7h1v1h-1zM0 8h10v1h-10zM2 9h5v1h-5zM8 9h1v1h-1zM3 10h6v1h-6zM3 11h2v1h-2zM6 11h4v1h-4zM3 12h1v1h-1zM5 12h1v1h-1zM7 12h3v1h-3zM2 13h4v1h-4zM7 13h3v1h-3zM1 14h4v1h-4zM6 14h5v1h-5zM1 15h9v1h-9zM2 16h1v1h-1zM8 16h3v1h-3zM1 17h10v1h-10zM1 18h3v1h-3zM5 18h6v1h-6zM13 18h1v1h-1zM2 19h13v1h-13zM2 20h13v1h-13zM2 21h4v1h-4zM9 21h4v1h-4zM1 22h4v1h-4zM12 22h1v1h-1zM1 23h4v1h-4zM11 24h1v1h-1zM10 25h2v1h-2zM1 26h11v1h-11zM8 27h3v1h-3zM8 28h2v1h-2zM8 29h1v1h-1zM8 30h1v1h-1zM1 32h7v1h-7zM1 33h7v1h-7zM1 34h7v1h-7zM1 35h5v1h-5zM1 36h5v1h-5zM1 37h5v1h-5zM1 38h5v1h-5zM0 39h6v1h-6zM0 40h6v1h-6zM0 41h6v1h-6zM1 42h5v1h-5zM0 43h6v1h-6zM0 44h6v1h-6zM0 45h6v1h-6zM0 49h3v1h-3z"/><path fill="#bb0535" d="M0 9h2v1h-2zM7 9h1v1h-1zM0 10h3v1h-3zM0 11h3v1h-3zM5 11h1v1h-1zM0 12h3v1h-3zM4 12h1v1h-1zM6 12h1v1h-1zM0 13h2v1h-2zM6 13h1v1h-1zM0 14h1v1h-1zM0 15h1v1h-1zM0 16h2v1h-2zM3 16h5v1h-5zM0 17h1v1h-1zM0 18h1v1h-1zM0 19h2v1h-2zM0 20h2v1h-2zM0 21h2v1h-2zM6 21h3v1h-3zM0 22h1v1h-1zM5 22h7v1h-7zM0 23h1v1h-1zM5 23h7v1h-7zM0 24h11v1h-11zM0 25h10v1h-10zM0 26h1v1h-1zM0 27h8v1h-8zM0 28h8v1h-8zM0 29h8v1h-8zM0 30h8v1h-8zM0 31h8v1h-8zM0 32h1v1h-1zM0 33h1v1h-1zM0 34h1v1h-1zM0 35h1v1h-1zM0 36h1v1h-1zM0 37h1v1h-1zM0 38h1v1h-1zM0 42h1v1h-1zM0 46h6v1h-6zM0 47h6v1h-6zM0 48h6v1h-6z"/></svg>
<div class="lg">
<div class="sw" style="top:9px;background:#ff8c3a"></div><div class="tx" style="top:5px;transform:scaleX(1.014)">sand</div>
<div class="sw" style="top:39px;height:17px;background:#c8fcff"></div><div class="tx" style="top:35px;transform:scaleX(1.09)">whitewater</div>
<div class="sw" style="top:70px;background:#0a5aff"></div><div class="tx" style="top:66px;transform:scaleX(1.09)">water</div>
<div class="sw" style="top:107px;height:3px;left:7px;width:45px;background:#000"></div><div class="tx" style="top:97px;transform:scaleX(1.07)">shoreline</div>
<div class="sw" style="top:130px;height:17px;background:#962028;box-sizing:border-box;border:1px solid #861820"></div><div class="tx" style="top:127px;transform:scaleX(1.088)">reference shoreline buffer</div>
</div>
<svg id="dots" width="2410" height="1283" fill="#000010"><circle cx="25.9" cy="136.2" r="1.6"/><circle cx="35.0" cy="133.4" r="1.6"/><circle cx="49.3" cy="132.2" r="1.6"/><circle cx="52.2" cy="133.4" r="1.6"/><circle cx="71.3" cy="156.5" r="1.6"/><circle cx="72.5" cy="158.3" r="1.6"/><circle cx="78.2" cy="179.1" r="1.6"/><circle cx="83.9" cy="202.0" r="1.6"/><circle cx="95.4" cy="213.2" r="1.6"/><circle cx="118.3" cy="216.3" r="1.6"/><circle cx="141.1" cy="219.5" r="1.6"/><circle cx="164.0" cy="205.2" r="1.6"/><circle cx="170.3" cy="202.0" r="1.6"/><circle cx="187.2" cy="189.2" r="1.6"/><circle cx="210.4" cy="183.4" r="1.6"/><circle cx="216.7" cy="179.1" r="1.6"/><circle cx="232.4" cy="173.1" r="1.6"/><circle cx="242.4" cy="179.1" r="1.6"/><circle cx="255.3" cy="193.2" r="1.6"/><circle cx="259.3" cy="202.0" r="1.6"/><circle cx="272.4" cy="225.5" r="1.6"/><circle cx="278.4" cy="233.2" r="1.6"/><circle cx="296.2" cy="248.4" r="1.6"/><circle cx="278.4" cy="273.3" r="1.6"/><circle cx="281.6" cy="271.3" r="1.6"/><circle cx="265.3" cy="294.1" r="1.6"/><circle cx="272.4" cy="317.0" r="1.6"/><circle cx="276.2" cy="340.2" r="1.6"/><circle cx="278.4" cy="344.2" r="1.6"/><circle cx="297.3" cy="362.2" r="1.6"/><circle cx="301.6" cy="367.1" r="1.6"/><circle cx="306.2" cy="385.4" r="1.6"/><circle cx="311.6" cy="408.2" r="1.6"/><circle cx="316.0" cy="431.2" r="1.6"/><circle cx="324.1" cy="438.4" r="1.6"/><circle cx="347.2" cy="451.4" r="1.6"/><circle cx="351.1" cy="454.1" r="1.6"/><circle cx="367.4" cy="477.3" r="1.6"/><circle cx="370.4" cy="480.1" r="1.6"/><circle cx="385.3" cy="477.3" r="1.6"/><circle cx="393.0" cy="475.4" r="1.6"/><circle cx="416.5" cy="476.2" r="1.6"/><circle cx="439.4" cy="469.3" r="1.6"/><circle cx="462.3" cy="457.2" r="1.6"/><circle cx="479.7" cy="477.3" r="1.6"/><circle cx="470.3" cy="500.5" r="1.6"/><circle cx="462.3" cy="508.5" r="1.6"/><circle cx="448.2" cy="523.4" r="1.6"/><circle cx="439.4" cy="536.3" r="1.6"/><circle cx="428.1" cy="546.3" r="1.6"/><circle cx="416.5" cy="571.1" r="1.6"/><circle cx="418.7" cy="569.2" r="1.6"/><circle cx="393.3" cy="592.4" r="1.6"/><circle cx="324.1" cy="610.3" r="1.6"/><circle cx="321.3" cy="615.0" r="1.6"/><circle cx="347.2" cy="611.4" r="1.6"/><circle cx="370.4" cy="612.2" r="1.6"/><circle cx="322.4" cy="637.9" r="1.6"/><circle cx="321.3" cy="661.1" r="1.6"/><circle cx="319.4" cy="683.2" r="1.6"/><circle cx="317.7" cy="706.1" r="1.6"/><circle cx="302.0" cy="730.3" r="1.6"/><circle cx="303.1" cy="729.0" r="1.6"/><circle cx="276.5" cy="752.0" r="1.6"/><circle cx="278.6" cy="750.2" r="1.6"/><circle cx="263.6" cy="775.3" r="1.6"/><circle cx="255.7" cy="783.4" r="1.6"/><circle cx="232.4" cy="792.4" r="1.6"/><circle cx="227.4" cy="798.4" r="1.6"/><circle cx="226.4" cy="821.3" r="1.6"/><circle cx="221.4" cy="844.2" r="1.6"/><circle cx="215.4" cy="867.3" r="1.6"/><circle cx="213.3" cy="890.4" r="1.6"/><circle cx="211.2" cy="913.5" r="1.6"/><circle cx="210.6" cy="925.4" r="1.6"/><circle cx="205.4" cy="936.2" r="1.6"/><circle cx="187.5" cy="959.3" r="1.6"/><circle cx="175.4" cy="981.3" r="1.6"/><circle cx="174.4" cy="1004.3" r="1.6"/><circle cx="174.5" cy="1027.3" r="1.6"/><circle cx="178.4" cy="1050.4" r="1.6"/><circle cx="185.6" cy="1073.5" r="1.6"/><circle cx="187.5" cy="1075.3" r="1.6"/><circle cx="207.4" cy="1096.4" r="1.6"/><circle cx="210.4" cy="1101.2" r="1.6"/><circle cx="213.4" cy="1119.5" r="1.6"/><circle cx="215.6" cy="1142.4" r="1.6"/><circle cx="219.4" cy="1165.3" r="1.6"/><circle cx="210.4" cy="1177.6" r="1.6"/><circle cx="194.4" cy="1188.4" r="1.6"/><circle cx="187.3" cy="1192.0" r="1.6"/><circle cx="164.2" cy="1206.3" r="1.6"/><circle cx="155.3" cy="1211.5" r="1.6"/><circle cx="141.5" cy="1224.4" r="1.6"/><circle cx="127.5" cy="1234.4" r="1.6"/><circle cx="118.4" cy="1235.2" r="1.6"/><circle cx="95.3" cy="1238.3" r="1.6"/><circle cx="73.3" cy="1257.5" r="1.6"/><circle cx="883.9" cy="136.2" r="1.6"/><circle cx="893.0" cy="133.4" r="1.6"/><circle cx="907.3" cy="132.2" r="1.6"/><circle cx="910.2" cy="133.4" r="1.6"/><circle cx="929.3" cy="156.5" r="1.6"/><circle cx="930.5" cy="158.3" r="1.6"/><circle cx="936.2" cy="179.1" r="1.6"/><circle cx="941.9" cy="202.0" r="1.6"/><circle cx="953.4" cy="213.2" r="1.6"/><circle cx="976.3" cy="216.3" r="1.6"/><circle cx="999.1" cy="219.5" r="1.6"/><circle cx="1022.0" cy="205.2" r="1.6"/><circle cx="1028.3" cy="202.0" r="1.6"/><circle cx="1045.2" cy="189.2" r="1.6"/><circle cx="1068.4" cy="183.4" r="1.6"/><circle cx="1074.7" cy="179.1" r="1.6"/><circle cx="1090.4" cy="173.1" r="1.6"/><circle cx="1100.4" cy="179.1" r="1.6"/><circle cx="1113.3" cy="193.2" r="1.6"/><circle cx="1117.3" cy="202.0" r="1.6"/><circle cx="1130.4" cy="225.5" r="1.6"/><circle cx="1136.4" cy="233.2" r="1.6"/><circle cx="1154.2" cy="248.4" r="1.6"/><circle cx="1136.4" cy="273.3" r="1.6"/><circle cx="1139.6" cy="271.3" r="1.6"/><circle cx="1123.3" cy="294.1" r="1.6"/><circle cx="1130.4" cy="317.0" r="1.6"/><circle cx="1134.2" cy="340.2" r="1.6"/><circle cx="1136.4" cy="344.2" r="1.6"/><circle cx="1155.3" cy="362.2" r="1.6"/><circle cx="1159.6" cy="367.1" r="1.6"/><circle cx="1164.2" cy="385.4" r="1.6"/><circle cx="1169.6" cy="408.2" r="1.6"/><circle cx="1174.0" cy="431.2" r="1.6"/><circle cx="1182.1" cy="438.4" r="1.6"/><circle cx="1205.2" cy="451.4" r="1.6"/><circle cx="1209.1" cy="454.1" r="1.6"/><circle cx="1225.4" cy="477.3" r="1.6"/><circle cx="1228.4" cy="480.1" r="1.6"/><circle cx="1243.3" cy="477.3" r="1.6"/><circle cx="1251.0" cy="475.4" r="1.6"/><circle cx="1274.5" cy="476.2" r="1.6"/><circle cx="1297.4" cy="469.3" r="1.6"/><circle cx="1320.3" cy="457.2" r="1.6"/><circle cx="1337.7" cy="477.3" r="1.6"/><circle cx="1328.3" cy="500.5" r="1.6"/><circle cx="1320.3" cy="508.5" r="1.6"/><circle cx="1306.2" cy="523.4" r="1.6"/><circle cx="1297.4" cy="536.3" r="1.6"/><circle cx="1286.1" cy="546.3" r="1.6"/><circle cx="1274.5" cy="571.1" r="1.6"/><circle cx="1276.7" cy="569.2" r="1.6"/><circle cx="1251.3" cy="592.4" r="1.6"/><circle cx="1182.1" cy="610.3" r="1.6"/><circle cx="1179.3" cy="615.0" r="1.6"/><circle cx="1205.2" cy="611.4" r="1.6"/><circle cx="1228.4" cy="612.2" r="1.6"/><circle cx="1180.4" cy="637.9" r="1.6"/><circle cx="1179.3" cy="661.1" r="1.6"/><circle cx="1177.4" cy="683.2" r="1.6"/><circle cx="1175.7" cy="706.1" r="1.6"/><circle cx="1160.0" cy="730.3" r="1.6"/><circle cx="1161.1" cy="729.0" r="1.6"/><circle cx="1134.5" cy="752.0" r="1.6"/><circle cx="1136.6" cy="750.2" r="1.6"/><circle cx="1121.6" cy="775.3" r="1.6"/><circle cx="1113.7" cy="783.4" r="1.6"/><circle cx="1090.4" cy="792.4" r="1.6"/><circle cx="1085.4" cy="798.4" r="1.6"/><circle cx="1084.4" cy="821.3" r="1.6"/><circle cx="1079.4" cy="844.2" r="1.6"/><circle cx="1073.4" cy="867.3" r="1.6"/><circle cx="1071.3" cy="890.4" r="1.6"/><circle cx="1069.2" cy="913.5" r="1.6"/><circle cx="1068.6" cy="925.4" r="1.6"/><circle cx="1063.4" cy="936.2" r="1.6"/><circle cx="1045.5" cy="959.3" r="1.6"/><circle cx="1033.4" cy="981.3" r="1.6"/><circle cx="1032.4" cy="1004.3" r="1.6"/><circle cx="1032.5" cy="1027.3" r="1.6"/><circle cx="1036.4" cy="1050.4" r="1.6"/><circle cx="1043.6" cy="1073.5" r="1.6"/><circle cx="1045.5" cy="1075.3" r="1.6"/><circle cx="1065.4" cy="1096.4" r="1.6"/><circle cx="1068.4" cy="1101.2" r="1.6"/><circle cx="1071.4" cy="1119.5" r="1.6"/><circle cx="1073.6" cy="1142.4" r="1.6"/><circle cx="1077.4" cy="1165.3" r="1.6"/><circle cx="1068.4" cy="1177.6" r="1.6"/><circle cx="1052.4" cy="1188.4" r="1.6"/><circle cx="1045.3" cy="1192.0" r="1.6"/><circle cx="1022.2" cy="1206.3" r="1.6"/><circle cx="1013.3" cy="1211.5" r="1.6"/><circle cx="999.5" cy="1224.4" r="1.6"/><circle cx="985.5" cy="1234.4" r="1.6"/><circle cx="976.4" cy="1235.2" r="1.6"/><circle cx="953.3" cy="1238.3" r="1.6"/><circle cx="931.3" cy="1257.5" r="1.6"/><circle cx="1741.9" cy="136.2" r="1.6"/><circle cx="1751.0" cy="133.4" r="1.6"/><circle cx="1765.3" cy="132.2" r="1.6"/><circle cx="1768.2" cy="133.4" r="1.6"/><circle cx="1787.3" cy="156.5" r="1.6"/><circle cx="1788.5" cy="158.3" r="1.6"/><circle cx="1794.2" cy="179.1" r="1.6"/><circle cx="1799.9" cy="202.0" r="1.6"/><circle cx="1811.4" cy="213.2" r="1.6"/><circle cx="1834.3" cy="216.3" r="1.6"/><circle cx="1857.1" cy="219.5" r="1.6"/><circle cx="1880.0" cy="205.2" r="1.6"/><circle cx="1886.3" cy="202.0" r="1.6"/><circle cx="1903.2" cy="189.2" r="1.6"/><circle cx="1926.4" cy="183.4" r="1.6"/><circle cx="1932.7" cy="179.1" r="1.6"/><circle cx="1948.4" cy="173.1" r="1.6"/><circle cx="1958.4" cy="179.1" r="1.6"/><circle cx="1971.3" cy="193.2" r="1.6"/><circle cx="1975.3" cy="202.0" r="1.6"/><circle cx="1988.4" cy="225.5" r="1.6"/><circle cx="1994.4" cy="233.2" r="1.6"/><circle cx="2012.2" cy="248.4" r="1.6"/><circle cx="1994.4" cy="273.3" r="1.6"/><circle cx="1997.6" cy="271.3" r="1.6"/><circle cx="1981.3" cy="294.1" r="1.6"/><circle cx="1988.4" cy="317.0" r="1.6"/><circle cx="1992.2" cy="340.2" r="1.6"/><circle cx="1994.4" cy="344.2" r="1.6"/><circle cx="2013.3" cy="362.2" r="1.6"/><circle cx="2017.6" cy="367.1" r="1.6"/><circle cx="2022.2" cy="385.4" r="1.6"/><circle cx="2027.6" cy="408.2" r="1.6"/><circle cx="2032.0" cy="431.2" r="1.6"/><circle cx="2040.1" cy="438.4" r="1.6"/><circle cx="2063.2" cy="451.4" r="1.6"/><circle cx="2067.1" cy="454.1" r="1.6"/><circle cx="2083.4" cy="477.3" r="1.6"/><circle cx="2086.4" cy="480.1" r="1.6"/><circle cx="2101.3" cy="477.3" r="1.6"/><circle cx="2109.0" cy="475.4" r="1.6"/><circle cx="2132.5" cy="476.2" r="1.6"/><circle cx="2155.4" cy="469.3" r="1.6"/><circle cx="2178.3" cy="457.2" r="1.6"/><circle cx="2195.7" cy="477.3" r="1.6"/><circle cx="2186.3" cy="500.5" r="1.6"/><circle cx="2178.3" cy="508.5" r="1.6"/><circle cx="2164.2" cy="523.4" r="1.6"/><circle cx="2155.4" cy="536.3" r="1.6"/><circle cx="2144.1" cy="546.3" r="1.6"/><circle cx="2132.5" cy="571.1" r="1.6"/><circle cx="2134.7" cy="569.2" r="1.6"/><circle cx="2109.3" cy="592.4" r="1.6"/><circle cx="2040.1" cy="610.3" r="1.6"/><circle cx="2037.3" cy="615.0" r="1.6"/><circle cx="2063.2" cy="611.4" r="1.6"/><circle cx="2086.4" cy="612.2" r="1.6"/><circle cx="2038.4" cy="637.9" r="1.6"/><circle cx="2037.3" cy="661.1" r="1.6"/><circle cx="2035.4" cy="683.2" r="1.6"/><circle cx="2033.7" cy="706.1" r="1.6"/><circle cx="2018.0" cy="730.3" r="1.6"/><circle cx="2019.1" cy="729.0" r="1.6"/><circle cx="1992.5" cy="752.0" r="1.6"/><circle cx="1994.6" cy="750.2" r="1.6"/><circle cx="1979.6" cy="775.3" r="1.6"/><circle cx="1971.7" cy="783.4" r="1.6"/><circle cx="1948.4" cy="792.4" r="1.6"/><circle cx="1943.4" cy="798.4" r="1.6"/><circle cx="1942.4" cy="821.3" r="1.6"/><circle cx="1937.4" cy="844.2" r="1.6"/><circle cx="1931.4" cy="867.3" r="1.6"/><circle cx="1929.3" cy="890.4" r="1.6"/><circle cx="1927.2" cy="913.5" r="1.6"/><circle cx="1926.6" cy="925.4" r="1.6"/><circle cx="1921.4" cy="936.2" r="1.6"/><circle cx="1903.5" cy="959.3" r="1.6"/><circle cx="1891.4" cy="981.3" r="1.6"/><circle cx="1890.4" cy="1004.3" r="1.6"/><circle cx="1890.5" cy="1027.3" r="1.6"/><circle cx="1894.4" cy="1050.4" r="1.6"/><circle cx="1901.6" cy="1073.5" r="1.6"/><circle cx="1903.5" cy="1075.3" r="1.6"/><circle cx="1923.4" cy="1096.4" r="1.6"/><circle cx="1926.4" cy="1101.2" r="1.6"/><circle cx="1929.4" cy="1119.5" r="1.6"/><circle cx="1931.6" cy="1142.4" r="1.6"/><circle cx="1935.4" cy="1165.3" r="1.6"/><circle cx="1926.4" cy="1177.6" r="1.6"/><circle cx="1910.4" cy="1188.4" r="1.6"/><circle cx="1903.3" cy="1192.0" r="1.6"/><circle cx="1880.2" cy="1206.3" r="1.6"/><circle cx="1871.3" cy="1211.5" r="1.6"/><circle cx="1857.5" cy="1224.4" r="1.6"/><circle cx="1843.5" cy="1234.4" r="1.6"/><circle cx="1834.4" cy="1235.2" r="1.6"/><circle cx="1811.3" cy="1238.3" r="1.6"/><circle cx="1789.3" cy="1257.5" r="1.6"/></svg>
</body></html>
